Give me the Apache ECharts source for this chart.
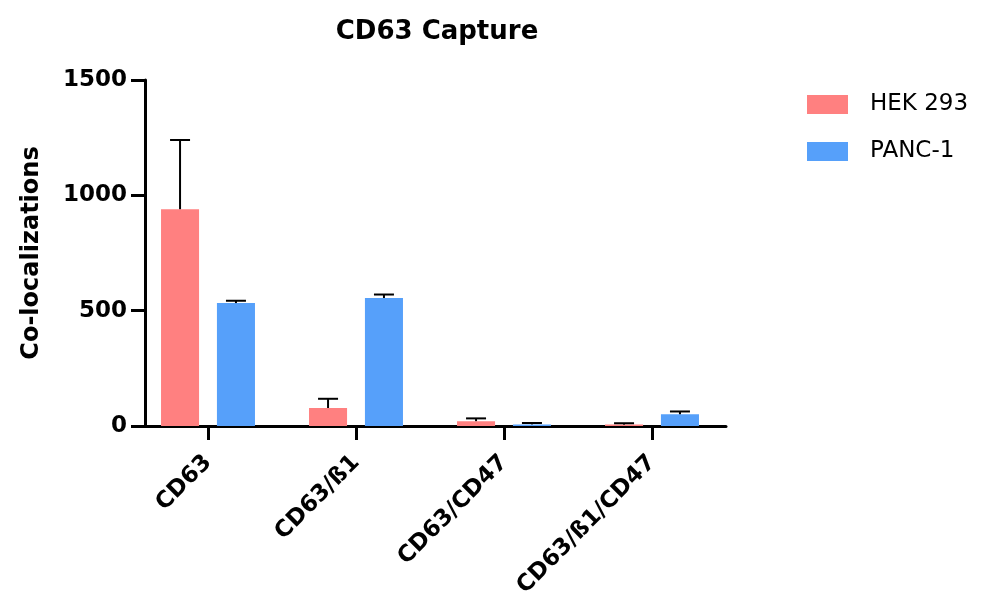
<!DOCTYPE html>
<html>
<head>
<meta charset="utf-8">
<script src="https://cdn.jsdelivr.net/npm/echarts@6/dist/echarts.min.js"></script>
<style>html,body{margin:0;padding:0;background:#fff;}#c{width:1002px;height:598px;}</style>
</head>
<body>
<div id="c"></div>
<script>
const categories = ['CD63', 'CD63/ß1', 'CD63/CD47', 'CD63/ß1/CD47'];
const seriesNames = ['HEK 293', 'PANC-1'];
const hekMean = [940, 78, 21, 6];
const hekErr = [300, 40, 12, 6];
const pancMean = [533, 555, 7, 51];
const pancErr = [10, 15, 6, 12];
const yTicks = [0, 500, 1000, 1500];

const colors = ['#FF8080', '#56A0FA'];
const FONT = 'DejaVu Sans, Liberation Sans, Arial, sans-serif';
const BAR_FRAC = 0.257, GAP_FRAC = 0.47;

function errSeries(means, errs, sign) {
  return {
    type: 'custom',
    silent: true,
    z: 5,
    data: means.map((m, i) => [i, m, m + errs[i]]),
    encode: { x: 0, y: [1, 2] },
    renderItem: function (params, api) {
      const i = api.value(0);
      const bw = api.size([1, 0])[0];
      const barW = bw * BAR_FRAC;
      const off = sign * (barW + barW * GAP_FRAC) / 2;
      const p0 = api.coord([i, api.value(1)]);
      const p1 = api.coord([i, api.value(2)]);
      const x = p0[0] + off;
      const cap = 10;
      return {
        type: 'group',
        children: [
          { type: 'line', shape: { x1: x, y1: p0[1], x2: x, y2: p1[1] }, style: { stroke: '#000', lineWidth: 2 } },
          { type: 'line', shape: { x1: x - cap, y1: p1[1], x2: x + cap, y2: p1[1] }, style: { stroke: '#000', lineWidth: 2 } }
        ]
      };
    }
  };
}

const chart = echarts.init(document.getElementById('c'));
chart.setOption({
  animation: false,
  textStyle: { fontFamily: FONT },
  title: {
    text: 'CD63 Capture',
    left: 432, textAlign: 'center', top: 14,
    textStyle: { fontSize: 26, fontWeight: 'bold', color: '#000', fontFamily: FONT }
  },
  legend: {
    data: seriesNames,
    orient: 'vertical',
    left: 802, top: 88,
    icon: 'rect',
    itemWidth: 41, itemHeight: 19,
    itemGap: 24,
    textStyle: { fontSize: 23, lineHeight: 19, color: '#000', padding: [0, 0, 0, 17], fontFamily: FONT }
  },
  grid: { left: 134, right: 1002 - 726, top: 80, bottom: 598 - 426, containLabel: false, outerBoundsMode: 'none' },
  xAxis: {
    type: 'category',
    data: categories,
    axisLine: { lineStyle: { color: '#000', width: 3 } },
    axisTick: { show: true, alignWithLabel: true, length: 14, lineStyle: { width: 3, color: '#000' } },
    axisLabel: { rotate: 45, margin: 33, fontSize: 23, fontWeight: 'bold', color: '#000', interval: 0, fontFamily: FONT }
  },
  yAxis: {
    type: 'value',
    min: 0, max: 1500, interval: 500,
    offset: -11,
    name: 'Co-localizations',
    nameLocation: 'middle',
    nameGap: 101,
    nameTextStyle: { fontSize: 24, fontWeight: 'bold', color: '#000', fontFamily: FONT },
    axisLine: { show: true, lineStyle: { color: '#000', width: 3 } },
    axisTick: { show: true, length: 14, lineStyle: { width: 3, color: '#000' } },
    axisLabel: { fontSize: 23, fontWeight: 'bold', color: '#000', margin: 18, fontFamily: FONT,
      formatter: v => yTicks.includes(v) ? String(v) : '' },
    splitLine: { show: false }
  },
  series: [
    { name: seriesNames[0], type: 'bar', data: hekMean, barWidth: (BAR_FRAC * 100) + '%', barGap: (GAP_FRAC * 100) + '%', itemStyle: { color: colors[0] } },
    { name: seriesNames[1], type: 'bar', data: pancMean, barWidth: (BAR_FRAC * 100) + '%', barGap: (GAP_FRAC * 100) + '%', itemStyle: { color: colors[1] } },
    errSeries(hekMean, hekErr, -1),
    errSeries(pancMean, pancErr, 1)
  ]
});
</script>
</body>
</html>
